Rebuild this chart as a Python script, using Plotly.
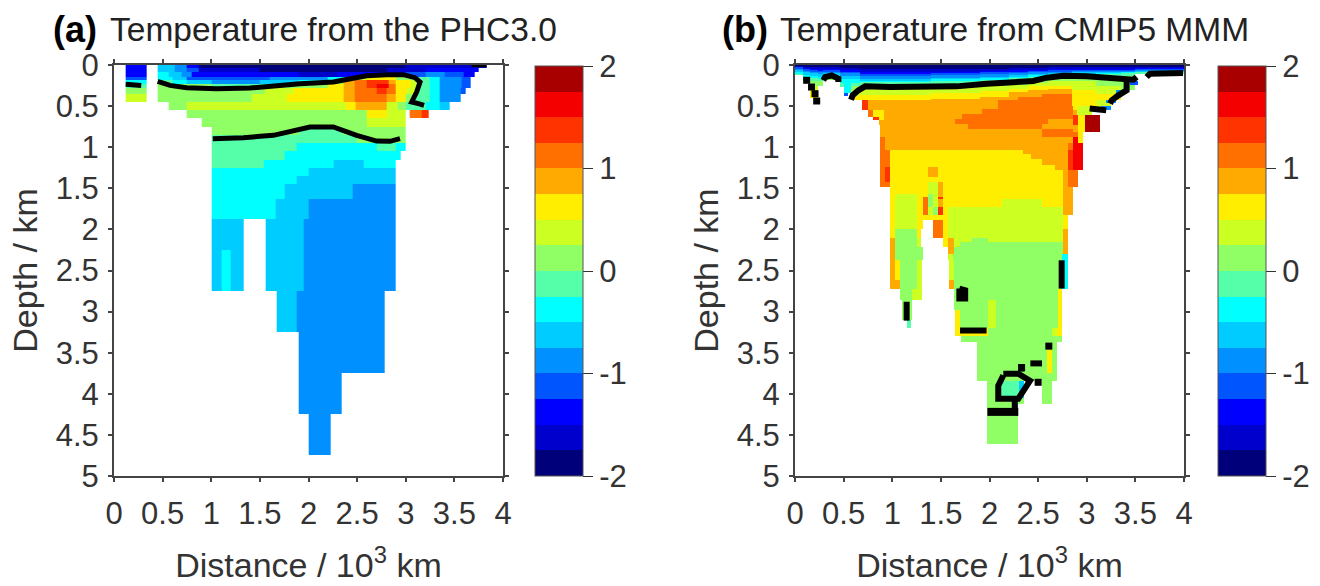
import numpy as np
import plotly.graph_objects as go

# ---- colour levels (16 bins of 0.25 from -2 to 2)
bin_edges = [-2 + 0.25 * i for i in range(17)]
bin_colors = ["#00007A", "#0000CC", "#0000FF", "#0055FF", "#0090FF", "#00CCFF", "#00FFFF", "#55FFAA",
              "#90FF66", "#CCFF22", "#FFEE00", "#FFAA00", "#FF7000", "#FF3300", "#F50000", "#A80000"]
cbar_ticks = [-2, -1, 0, 1, 2]
cbar_text = ["-2", "-1", "0", "1", "2"]
x_ticks = [0, 0.5, 1, 1.5, 2, 2.5, 3, 3.5, 4]
x_text = ["0", "0.5", "1", "1.5", "2", "2.5", "3", "3.5", "4"]
y_ticks = [0, 0.5, 1, 1.5, 2, 2.5, 3, 3.5, 4, 4.5, 5]
y_text = ["0", "0.5", "1", "1.5", "2", "2.5", "3", "3.5", "4", "4.5", "5"]

# ---- panel (a): (depth top, depth bottom, [x0, T, x1, T, x2 ...]) in km / 10^3 km / deg C
N = None
rows_a = [
 (0, .04, [.12, -1.375, .336, N, .449, -.625, .627, -.875, .747, -1.375, .867, -1.875, 3.0, -1.625, 3.83]),
 (.04, .09, [.12, -1.375, .336, N, .449, -.625, .627, -.875, .747, -1.125, .867, -1.625, 1.5, -1.875, 2.8, -1.625, 3.2, -1.375, 3.75]),
 (.09, .14, [.12, -1.375, .336, N, .449, -.375, .565, -.625, .7, -.875, .8, -1.375, 1.9, -1.625, 2.3, -1.375, 2.8, -1.375, 3.0, -1.125, 3.2, -.875, 3.4, -1.125, 3.6, -1.375, 3.71]),
 (.14, .18, [.12, -1.125, .336, N, .449, -.375, .6, -.625, .75, -1.125, 1.6, -.875, 2.2, -.375, 2.45, .375, 2.6, .625, 2.9, .125, 3.1, -.125, 3.25, -.375, 3.35, -.875, 3.58, -1.125, 3.67]),
 (.18, .225, [.12, -.375, .336, N, .449, -.125, .6, -.375, .75, -.625, 1.0, -.875, 1.5, -.625, 1.9, -.375, 2.2, .125, 2.358, .875, 2.478, 1.125, 2.6, 1.375, 2.82, .875, 2.9, .625, 3.05, .375, 3.15, -.125, 3.25, -.375, 3.35, -.875, 3.58, -1.125, 3.67]),
 (.225, .275, [.12, -.125, .336, N, .449, .125, 1.0, -.125, 1.6, .125, 2.2, .625, 2.358, .875, 2.478, 1.125, 2.6, 1.375, 2.7, 1.625, 2.82, 1.125, 2.9, .625, 3.05, .375, 3.15, -.125, 3.25, -.375, 3.35, -.875, 3.58, -1.125, 3.67]),
 (.275, .35, [.12, .125, .336, N, .449, .125, 1.55, .375, 1.85, .625, 2.358, .875, 2.478, 1.125, 2.7, 1.375, 2.804, 1.125, 2.9, .625, 3.01, .375, 3.12, -.125, 3.25, -.375, 3.35, -.875, 3.56, -1.125, 3.62]),
 (.35, .45, [.12, .375, .336, N, .449, .125, 1.416, .375, 1.78, .625, 2.358, .875, 2.478, 1.125, 2.804, .875, 2.9, .625, 3.0, .125, 3.09, -.125, 3.25, -.375, 3.35, -.875, 3.56]),
 (.45, .55, [.566, .125, .747, .375, 2.38, .625, 2.49, .875, 2.8, .375, 2.92, .125, 3.0, -.125, 3.2, -.375, 3.35, -.625, 3.455]),
 (.55, .65, [.747, .125, .898, .125, 2.6, .625, 2.8, .375, 3.003, N, 3.044, 1.125, 3.164, 1.375, 3.233]),
 (.65, .75, [.898, .125, 2.6, .375, 3.003]),
 (.75, .85, [1.004, .125, 1.9, -.125, 2.35, .125, 3.003]),
 (.85, .95, [1.004, -.125, 2.5, .125, 3.003]),
 (.95, 1.05, [1.004, -.125, 1.878, -.375, 2.7, -.125, 2.896, -.375, 3.003]),
 (1.05, 1.15, [1.004, -.125, 1.76, -.375, 2.951]),
 (1.15, 1.25, [1.004, -.125, 1.536, -.375, 2.255, -.625, 2.564, -.375, 2.896]),
 (1.25, 1.35, [1.004, -.375, 2.0, -.625, 2.896]),
 (1.35, 1.45, [1.004, -.375, 1.878, -.625, 2.896]),
 (1.45, 1.625, [1.004, -.375, 1.76, -.625, 2.451, -.875, 2.896]),
 (1.625, 1.875, [1.004, -.375, 1.66, -.625, 2.005, -.875, 2.896]),
 (1.875, 2.25, [1.004, -.625, 1.337, N, 1.563, -.625, 1.954, -.875, 2.896]),
 (2.25, 2.75, [1.004, -.625, 1.107, -.375, 1.2, -.625, 1.337, N, 1.563, -.625, 1.954, -.875, 2.896]),
 (2.75, 3.25, [1.673, -.625, 1.878, -.875, 2.787]),
 (3.25, 3.75, [1.895, -.875, 2.787]),
 (3.75, 4.25, [1.895, -.875, 2.338]),
 (4.25, 4.75, [2.005, -.875, 2.228]),
]
contours_a = [
 ([.12, .28], [.235, .25]),
 ([.449, .576, .747, 1.056, 1.398, 1.638, 1.912, 2.255, 2.427, 2.598, 2.804, 2.975, 3.095, 3.147, 3.112, 3.061, 3.13, 3.188],
  [.2, .248, .276, .288, .28, .255, .227, .207, .166, .13, .118, .118, .154, .207, .329, .45, .47, .49]),
 ([1.015, 1.33, 1.638, 1.844, 2.015, 2.255, 2.495, 2.701, 2.838, 2.941],
  [.896, .884, .856, .803, .754, .754, .856, .925, .929, .896]),
 ([3.678, 3.83], [-.003, -.003]),
]

# ---- panel (b)
rows_b = [
 (.25, .43, [.65, .875, 3.0]),
 (.43, .55, [.686, 1.375, .754, .875, 2.862, .625, 2.913, .375, 3.25]),
 (.55, .61, [.754, 1.125, .805, .625, .92, .875, 2.862, .875, 2.9, .375, 3.05]),
 (.61, .63, [.754, 1.125, .805, .625, .92, .875, 2.839, .875, 2.862, 1.375, 2.913, .625, 2.982, 1.875, 3.136]),
 (.63, .665, [.805, 1.375, .867, .625, .92, .875, 2.839, .875, 2.862, 1.375, 2.913, .625, 2.982, 1.875, 3.136]),
 (.665, .734, [.867, .875, 2.839, .875, 2.862, 1.375, 2.913, .625, 2.982, 1.875, 3.136]),
 (.734, .815, [.874, .875, 2.82, .875, 2.913, .625, 2.982, 1.875, 3.136]),
 (.815, .876, [.874, .875, 2.8, .875, 2.862, 1.125, 2.913, .625, 2.965]),
 (.876, .95, [.874, 1.125, .925, .875, 2.8, .875, 2.862, 1.625, 2.913, .625, 2.965]),
 (.95, 1.04, [.874, 1.125, .925, .875, 2.762, .875, 2.811, 1.125, 2.862, 1.625, 2.965]),
 (1.04, 1.08, [.874, 1.125, .977, .625, 2.348, .875, 2.811, 1.375, 2.862, 1.625, 2.965]),
 (1.08, 1.14, [.874, 1.125, .977, .625, 2.43, .875, 2.811, 1.375, 2.862, 1.625, 2.965]),
 (1.14, 1.22, [.874, 1.125, .977, .625, 2.536, .875, 2.811, 1.375, 2.862, 1.625, 2.965]),
 (1.22, 1.24, [.874, 1.125, .977, .625, 2.674, .875, 2.811, 1.375, 2.862, 1.625, 2.965]),
 (1.24, 1.28, [.874, 1.125, .925, 1.375, .977, .625, 1.364, .875, 1.467, .625, 2.674, .875, 2.811, 1.375, 2.862, 1.625, 2.965]),
 (1.28, 1.36, [.874, 1.125, .925, 1.375, .977, .625, 1.364, .875, 1.467, .625, 2.759, .875, 2.811, 1.125, 2.913]),
 (1.36, 1.42, [.874, 1.125, .925, 1.375, .977, .625, 2.759, .875, 2.811, 1.125, 2.913]),
 (1.42, 1.484, [.874, 1.125, .977, .625, 1.371, .375, 1.422, .375, 1.474, .875, 1.525, .625, 2.759, .875, 2.811, 1.125, 2.913]),
 (1.484, 1.565, [.977, .625, 1.371, .375, 1.422, .375, 1.474, .875, 1.525, .625, 2.759, .875, 2.862]),
 (1.565, 1.6, [.977, .625, 1.028, .375, 1.25, .625, 1.371, .125, 1.422, .375, 1.474, .875, 1.525, .625, 2.759, .875, 2.862]),
 (1.6, 1.626, [.977, .625, 1.028, .375, 1.25, .625, 1.32, 1.125, 1.364, .125, 1.42, .375, 1.467, 1.375, 1.525, .625, 2.759, .875, 2.862]),
 (1.626, 1.73, [.977, .625, 1.028, .375, 1.25, .625, 1.32, 1.125, 1.364, .125, 1.42, .375, 1.467, .875, 1.525, .625, 2.125, .375, 2.536, .625, 2.759, .875, 2.862]),
 (1.73, 1.83, [.977, .625, 1.028, .375, 1.25, .625, 1.32, 1.125, 1.364, .375, 1.42, .125, 1.467, 1.375, 1.525, .625, 1.577, .375, 2.759, .875, 2.862]),
 (1.83, 1.89, [.977, .625, 1.028, .375, 1.25, .625, 1.32, .625, 1.42, .625, 1.525, .625, 1.577, .375, 2.759, .625, 2.804]),
 (1.89, 1.99, [.977, .625, 1.028, .375, 1.25, .625, 1.32, N, 1.42, 1.125, 1.525, .625, 1.577, .375, 2.759, .625, 2.804]),
 (1.99, 2.11, [.977, .625, 1.028, .125, 1.25, .625, 1.3, N, 1.42, 1.125, 1.525, .625, 1.577, .375, 2.759, .875, 2.804]),
 (2.11, 2.15, [.977, .875, 1.028, .125, 1.25, .375, 1.3, N, 1.525, .625, 1.577, .875, 1.64, .375, 1.817, .125, 1.988, .375, 2.759, .875, 2.804]),
 (2.15, 2.21, [.977, .875, 1.028, .125, 1.25, .375, 1.3, N, 1.525, .625, 1.577, .875, 1.64, .375, 1.7, .125, 2.759, .875, 2.804]),
 (2.21, 2.295, [.977, .875, 1.028, .125, 1.32, N, 1.577, .875, 1.64, .125, 2.759, .875, 2.804]),
 (2.295, 2.376, [.977, .875, 1.028, .125, 1.32, N, 1.577, .375, 1.628, .125, 2.75, -.375, 2.804]),
 (2.376, 2.5, [.977, .875, 1.028, .625, 1.08, .125, 1.25, .375, 1.302, N, 1.583, .375, 1.64, .125, 2.74, -.375, 2.804]),
 (2.5, 2.62, [.977, .875, 1.028, .625, 1.08, .125, 1.25, .375, 1.302, N, 1.583, .375, 1.64, .125, 2.74, -.375, 2.804]),
 (2.62, 2.72, [.977, .875, 1.08, .125, 1.25, .375, 1.302, N, 1.583, .875, 1.64, .125, 2.74, -.375, 2.804]),
 (2.72, 2.86, [1.08, .125, 1.2, .375, 1.302, N, 1.64, .125, 2.708, .625, 2.742]),
 (2.86, 2.98, [1.097, .125, 1.2, N, 1.64, .125, 1.98, .375, 2.07, .125, 2.708, .625, 2.742]),
 (2.98, 3.1, [1.097, .125, 1.2, N, 1.645, .625, 1.697, .125, 1.98, .375, 2.07, .125, 2.708, .625, 2.742]),
 (3.1, 3.2, [1.148, -.125, 1.19, N, 1.645, .625, 1.697, .125, 1.98, .375, 2.07, .125, 2.708, .625, 2.742]),
 (3.2, 3.3, [1.645, .625, 1.988, .125, 2.64, .375, 2.69, .625, 2.742]),
 (3.3, 3.37, [1.707, .125, 2.742]),
 (3.37, 3.47, [1.868, .125, 2.69]),
 (3.47, 3.75, [1.868, .125, 2.588, .625, 2.64, .125, 2.69]),
 (3.75, 3.84, [1.868, .125, 2.69]),
 (3.84, 4.05, [1.978, .125, 2.09, -.125, 2.3, -.625, 2.354, N, 2.536, .125, 2.64]),
 (4.05, 4.12, [1.978, .125, 2.354, N, 2.536, .125, 2.64]),
 (4.12, 4.27, [1.978, .125, 2.27, -.625, 2.296]),
 (4.27, 4.615, [1.978, .125, 2.296]),
 # warmer core
 (.35, .39, [2.536, 1.125, 2.862]),
 (.39, .43, [2.296, 1.125, 2.862]),
 (.43, .53, [2.09, 1.125, 2.862]),
 (.53, .595, [1.92, 1.125, 2.862]),
 (.595, .655, [1.714, 1.125, 2.862]),
 (.655, .715, [1.645, 1.125, 2.605]),
 (.715, .775, [1.78, 1.125, 2.536]),
 (.775, .875, [2.536, 1.125, 2.862]),
]
# columns: x0, x1 and the bottom depth of each band, coldest band first
band_temps = [-1.875, -1.625, -1.375, -1.125, -.875, -.625, -.375, -.125, .125, .375, .625]
bands_b = [
 (.0, .08, [.01, .02, .03, .045, .065, .085, .11, .126]),
 (.08, .154, [.02, .035, .05, .07, .09, .12, .15, .2]),
 (.154, .24, [.025, .045, .06, .08, .1, .13, .16, .19, .25, .32, .4]),
 (.24, .29, [.03, .05, .07, .09, .11, .14, .17, .2, .25]),
 (.29, .46, [.03, .05, .065, .08, .1, .12, .14, .16, .18]),
 (.46, .5, [.035, .06, .08, .1, .13, .17, .22, .27]),
 (.5, .58, [.035, .06, .08, .1, .13, .17, .34, .34]),
 (.58, .67, [.035, .06, .08, .1, .13, .17, .22, .26, .3, .38, .43]),
 (.67, 1.4, [.05, .085, .105, .13, .166, .19, .21, .25, .28, .36, .43]),
 (1.4, 1.9, [.05, .08, .1, .125, .155, .175, .2, .235, .27, .34, .41]),
 (1.9, 2.2, [.045, .07, .09, .11, .14, .16, .18, .215, .25, .32, .39]),
 (2.2, 2.4, [.04, .06, .08, .1, .125, .145, .16, .19, .24, .29, .33]),
 (2.4, 2.6, [.035, .055, .07, .09, .11, .125, .14, .165, .215, .26, .3]),
 (2.6, 2.85, [.03, .05, .065, .08, .1, .115, .13, .155, .2, .25, .29]),
 (2.85, 3.1, [.03, .05, .06, .075, .09, .105, .12, .14, .2, .3, .5]),
 (3.1, 3.35, [.03, .05, .06, .07, .085, .1, .115, .14, .25, .35, .43]),
 (3.35, 3.5, [.03, .05, .06, .07, .08, .09, .1, .13, .3]),
 (3.5, 4.0, [.02, .035, .05, .06, .07, .08, .09, .11]),
]
# blue-edge fragments along the slopes
patches_b = [
 (.34, .38, [.5, -1.125, .55]),
 (.19, .24, [3.44, -1.125, 3.53]),
 (.31, .37, [3.3, -.875, 3.38]),
 (.5, .55, [3.15, -.875, 3.25]),
 (.43, .46, [3.2, -.875, 3.3]),
]
# unsampled areas on the east slope: (depth top, depth bottom, x where the section ends)
slope_b = [(.11, .187, 3.62), (.187, .308, 3.53), (.308, .43, 3.445), (.43, .55, 3.36), (.55, .653, 3.24),
           (.653, .815, 3.136), (.815, 1.28, 2.965), (1.28, 1.484, 2.913), (1.484, 1.83, 2.862), (1.83, 2.376, 2.804)]
contours_b = [
 ([.576, .593, .651, .72, .977, 1.32, 1.662, 1.971, 2.245, 2.45, 2.588, 2.76, 3.0, 3.17, 3.376, 3.48, 3.513],
  [.422, .369, .308, .26, .268, .268, .26, .227, .207, .195, .154, .13, .138, .154, .178, .178, .146]),
 ([3.41, 3.41, 3.325, 3.256, 3.24], [.187, .308, .369, .43, .47]),
 ([3.03, 3.2], [.53, .55]),
 ([3.616, 3.65, 3.99], [.146, .105, .097]),
 ([.291, .309, .377, .446, .446], [.187, .146, .126, .166, .207]),
 ([2.742, 2.742], [2.376, 2.72]),
 ([1.69, 1.75, 1.75, 1.69, 1.69], [2.72, 2.74, 2.84, 2.84, 2.72]),
 ([1.697, 1.97], [3.23, 3.23]),
 ([2.42, 2.54], [3.63, 3.63]),
 ([2.33, 2.33], [3.66, 3.73]),
 ([2.142, 2.296, 2.416, 2.348, 2.296, 2.09, 2.09, 2.142], [3.755, 3.755, 3.84, 3.96, 4.06, 4.06, 3.9, 3.775]),
 ([2.26, 2.26], [4.08, 4.18]),
 ([1.148, 1.148], [2.88, 3.11]),
]
thick_b = ([1.978, 2.296], [4.22, 4.22])
dots_b_x = [.12, .17, .206, .223, 2.61, 2.5, 2.33]
dots_b_y = [.186, .268, .349, .438, 3.42, 3.86, 3.68]


def build(rows):
    xs = sorted({v for r in rows for v in r[2][0::2]})
    ds = sorted({r[0] for r in rows} | {r[1] for r in rows})
    xi = {v: i for i, v in enumerate(xs)}
    di = {v: i for i, v in enumerate(ds)}
    z = np.full((len(ds) - 1, len(xs) - 1), np.nan)
    for d0, d1, seg in rows:
        for k in range(0, len(seg) - 2, 2):
            z[di[d0]:di[d1], xi[seg[k]]:xi[seg[k + 2]]] = np.nan if seg[k + 1] is None else seg[k + 1]
    return xs, ds, z


all_b = list(rows_b)
for x0, x1, bottoms in bands_b:
    top = 0
    for t, b in zip(band_temps, bottoms):
        if b > top:
            all_b.append((top, b, [x0, t, x1]))
            top = b
all_b += patches_b
for d0, d1, xr in slope_b:
    all_b.append((d0, d1, [xr, None, 4.0]))

xa, da, za = build(rows_a)
xb, db, zb = build(all_b)

scale = []
for i, c in enumerate(bin_colors):
    scale += [[i / 16, c], [(i + 1) / 16, c]]

INK = "#333333"
FONT = "Liberation Sans"
W, H = 1320, 586
TOP, BOT = 65, 476
panels = [(114, 503, 535, "x", "y"), (795, 1184, 1218, "x2", "y2")]

fig = go.Figure()
for (x, d, z), (l, r, cb, xn, yn) in zip([(xa, da, za), (xb, db, zb)], panels):
    fig.add_trace(go.Heatmap(
        x=x, y=d, z=z, xaxis=xn, yaxis=yn, zmin=-2, zmax=2, colorscale=scale, hoverongaps=False,
        colorbar=dict(x=cb / W, xanchor="left", xpad=0, ypad=0, y=1 - 66 / H, yanchor="top",
                      lenmode="pixels", len=410, thicknessmode="pixels", thickness=48,
                      outlinecolor="#555555", outlinewidth=1, tickmode="array", tickvals=cbar_ticks,
                      ticktext=cbar_text, ticks="outside", ticklen=10, tickcolor=INK, tickwidth=1,
                      tickfont=dict(family=FONT, size=31, color=INK))))

for cx, cy in contours_a:
    fig.add_trace(go.Scatter(x=cx, y=cy, mode="lines", line=dict(color="black", width=5),
                             xaxis="x", yaxis="y", showlegend=False, cliponaxis=False))
for cx, cy in contours_b:
    fig.add_trace(go.Scatter(x=cx, y=cy, mode="lines", line=dict(color="black", width=6),
                             xaxis="x2", yaxis="y2", showlegend=False, cliponaxis=False))
fig.add_trace(go.Scatter(x=thick_b[0], y=thick_b[1], mode="lines", line=dict(color="black", width=8),
                         xaxis="x2", yaxis="y2", showlegend=False))
fig.add_trace(go.Scatter(x=dots_b_x, y=dots_b_y, mode="markers", marker=dict(color="black", size=7, symbol="square"),
                         xaxis="x2", yaxis="y2", showlegend=False))

axis_common = dict(showgrid=False, zeroline=False, showline=True, linecolor="#444444", linewidth=2,
                   mirror="ticks", ticks="outside", ticklen=4, tickcolor="#444444", tickwidth=2,
                   tickfont=dict(family=FONT, size=31, color=INK), tickmode="array")
for i, (l, r, cb, xn, yn) in enumerate(panels):
    sfx = "" if i == 0 else "2"
    fig.update_layout({
        "xaxis" + sfx: dict(axis_common, domain=[l / W, r / W], range=[0, 4], anchor="y" + sfx, tickvals=x_ticks,
                            ticktext=x_text, ticklabelstandoff=5,
                            title=dict(text="Distance / 10<sup>3</sup> km", standoff=23,
                                       font=dict(family=FONT, size=34, color=INK))),
        "yaxis" + sfx: dict(axis_common, domain=[1 - BOT / H, 1 - TOP / H], range=[5, 0], anchor="x" + sfx,
                            tickvals=y_ticks, ticktext=y_text, ticklabelstandoff=3,
                            title=dict(text="Depth / km", standoff=8,
                                       font=dict(family=FONT, size=34, color=INK))),
    })

titles = [(51, "(a)", 108, "Temperature from the PHC3.0"), (720, "(b)", 778, "Temperature from CMIP5 MMM")]
ann = []
for bx, btxt, tx, txt in titles:
    ann.append(dict(xref="paper", yref="paper", x=bx / W, y=1 - 30 / H, xanchor="left", yanchor="middle",
                    text="<b>%s</b>" % btxt, showarrow=False, font=dict(family=FONT, size=36, color="black")))
    ann.append(dict(xref="paper", yref="paper", x=tx / W, y=1 - 30 / H, xanchor="left", yanchor="middle",
                    text=txt, showarrow=False, font=dict(family=FONT, size=33.5, color="#222222")))

fig.update_layout(width=W, height=H, margin=dict(l=0, r=0, t=0, b=0, autoexpand=False), autosize=False,
                  paper_bgcolor="white", plot_bgcolor="white", showlegend=False, annotations=ann)

fig.write_html("out.html", config={"displayModeBar": False}, post_script="document.body.style.margin='0';")
